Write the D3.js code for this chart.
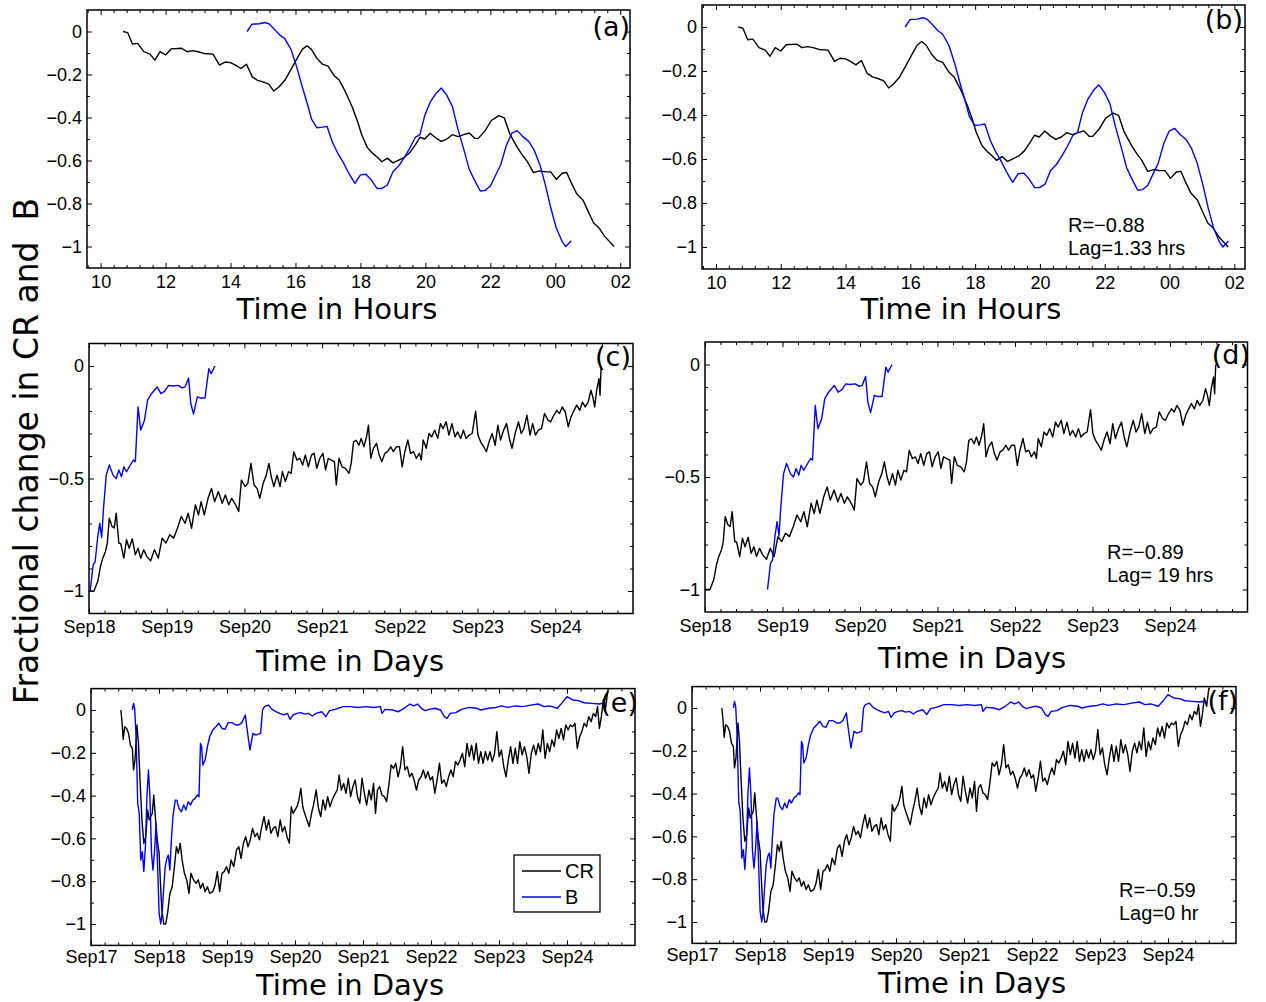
<!DOCTYPE html>
<html>
<head>
<meta charset="utf-8">
<script src="https://cdn.jsdelivr.net/npm/d3@7"></script>
<style>
body { margin: 0; background: #fff; }
.tick text { font-family: "Liberation Sans", Arial, sans-serif; font-size: 18px; fill: #000; }
.big { font-family: "DejaVu Sans", sans-serif; fill: #000; white-space: pre; }
.note { font-family: "Liberation Sans", Arial, sans-serif; font-size: 20px; fill: #000; }
</style>
</head>
<body>
<svg id="fig"></svg>
<script>
// ---- data: hourly event (panels a, b), hours of day (24 = midnight) ----
var crHours = [[10.69,0],[10.83,-0.005],[10.98,-0.058],[11.14,-0.055],[11.33,-0.094],[11.52,-0.105],[11.67,-0.133],[11.83,-0.094],[12.0,-0.109],[12.17,-0.081],[12.49,-0.078],[12.66,-0.094],[12.83,-0.089],[13.0,-0.094],[13.18,-0.102],[13.46,-0.105],[13.66,-0.156],[13.83,-0.142],[14.0,-0.145],[14.15,-0.156],[14.32,-0.172],[14.49,-0.152],[14.67,-0.211],[14.83,-0.227],[15.0,-0.234],[15.18,-0.245],[15.33,-0.277],[15.49,-0.258],[15.67,-0.227],[15.86,-0.177],[16.03,-0.13],[16.21,-0.083],[16.35,-0.066],[16.49,-0.083],[16.66,-0.125],[16.83,-0.152],[17.0,-0.161],[17.18,-0.203],[17.35,-0.227],[17.54,-0.281],[17.75,-0.352],[17.92,-0.422],[18.03,-0.477],[18.21,-0.539],[18.38,-0.567],[18.53,-0.586],[18.66,-0.606],[18.83,-0.589],[19.0,-0.611],[19.18,-0.598],[19.35,-0.586],[19.52,-0.563],[19.69,-0.527],[19.83,-0.492],[19.98,-0.5],[20.15,-0.473],[20.32,-0.495],[20.49,-0.511],[20.66,-0.5],[20.83,-0.48],[21.0,-0.489],[21.18,-0.48],[21.35,-0.472],[21.52,-0.497],[21.63,-0.497],[21.84,-0.461],[22.03,-0.414],[22.26,-0.391],[22.43,-0.402],[22.6,-0.477],[22.83,-0.539],[23.0,-0.578],[23.14,-0.605],[23.33,-0.656],[23.52,-0.648],[23.69,-0.653],[23.86,-0.653],[24.03,-0.688],[24.21,-0.659],[24.35,-0.656],[24.49,-0.703],[24.66,-0.755],[24.86,-0.786],[25.0,-0.833],[25.18,-0.891],[25.35,-0.914],[25.52,-0.953],[25.81,-1.0]]

var bHours = [[14.51,0],[14.66,0.034],[14.89,0.036],[15.06,0.042],[15.18,0.036],[15.35,0.011],[15.52,-0.017],[15.67,-0.033],[15.86,-0.083],[16.03,-0.161],[16.21,-0.258],[16.38,-0.344],[16.49,-0.406],[16.66,-0.448],[16.83,-0.445],[16.97,-0.441],[17.14,-0.516],[17.29,-0.563],[17.46,-0.606],[17.63,-0.656],[17.83,-0.706],[18.0,-0.667],[18.17,-0.664],[18.32,-0.688],[18.51,-0.73],[18.66,-0.73],[18.83,-0.714],[19.0,-0.652],[19.18,-0.625],[19.35,-0.586],[19.52,-0.542],[19.69,-0.492],[19.83,-0.48],[19.98,-0.391],[20.15,-0.328],[20.32,-0.289],[20.49,-0.263],[20.66,-0.297],[20.83,-0.348],[21.0,-0.453],[21.18,-0.547],[21.35,-0.641],[21.5,-0.688],[21.69,-0.742],[21.84,-0.739],[22.0,-0.719],[22.15,-0.672],[22.32,-0.62],[22.49,-0.531],[22.66,-0.473],[22.83,-0.461],[23.0,-0.489],[23.18,-0.511],[23.35,-0.552],[23.52,-0.617],[23.69,-0.711],[23.86,-0.82],[24.03,-0.914],[24.21,-0.977],[24.32,-1.0],[24.49,-0.973]]

// ---- data: panels c, d  (days since Sep 18) ----
var dayZeroCD = 18
var crDaysCD = [[0,-1],[0.064,-1],[0.113,-0.957],[0.148,-0.89],[0.177,-0.854],[0.212,-0.824],[0.236,-0.787],[0.261,-0.676],[0.296,-0.713],[0.325,-0.72],[0.35,-0.654],[0.384,-0.787],[0.409,-0.79],[0.448,-0.854],[0.483,-0.772],[0.517,-0.81],[0.557,-0.768],[0.596,-0.839],[0.631,-0.81],[0.665,-0.854],[0.704,-0.817],[0.744,-0.846],[0.793,-0.866],[0.842,-0.817],[0.892,-0.854],[0.941,-0.765],[0.99,-0.787],[1.039,-0.75],[1.089,-0.765],[1.138,-0.721],[1.187,-0.669],[1.236,-0.699],[1.276,-0.654],[1.32,-0.721],[1.369,-0.617],[1.409,-0.662],[1.443,-0.603],[1.483,-0.662],[1.532,-0.588],[1.576,-0.544],[1.616,-0.603],[1.665,-0.558],[1.714,-0.61],[1.754,-0.573],[1.798,-0.617],[1.837,-0.588],[1.887,-0.617],[1.926,-0.647],[1.961,-0.507],[2.01,-0.536],[2.044,-0.521],[2.084,-0.433],[2.123,-0.529],[2.163,-0.544],[2.197,-0.588],[2.241,-0.521],[2.281,-0.485],[2.315,-0.433],[2.345,-0.492],[2.379,-0.536],[2.419,-0.485],[2.458,-0.536],[2.488,-0.47],[2.527,-0.514],[2.567,-0.47],[2.601,-0.477],[2.635,-0.381],[2.675,-0.418],[2.714,-0.41],[2.749,-0.44],[2.783,-0.396],[2.823,-0.448],[2.862,-0.396],[2.897,-0.388],[2.931,-0.455],[2.97,-0.41],[3.01,-0.388],[3.044,-0.462],[3.079,-0.41],[3.118,-0.418],[3.158,-0.425],[3.182,-0.529],[3.217,-0.41],[3.256,-0.448],[3.3,-0.455],[3.345,-0.477],[3.374,-0.433],[3.404,-0.337],[3.438,-0.33],[3.473,-0.352],[3.502,-0.322],[3.537,-0.359],[3.571,-0.315],[3.596,-0.263],[3.626,-0.41],[3.66,-0.366],[3.7,-0.344],[3.734,-0.396],[3.768,-0.425],[3.808,-0.388],[3.842,-0.381],[3.882,-0.359],[3.916,-0.381],[3.956,-0.359],[3.995,-0.359],[4.03,-0.448],[4.064,-0.381],[4.103,-0.329],[4.138,-0.388],[4.177,-0.381],[4.212,-0.41],[4.251,-0.388],[4.276,-0.418],[4.3,-0.329],[4.34,-0.366],[4.374,-0.3],[4.409,-0.315],[4.448,-0.285],[4.488,-0.322],[4.522,-0.256],[4.557,-0.278],[4.596,-0.248],[4.631,-0.307],[4.67,-0.256],[4.709,-0.315],[4.744,-0.293],[4.783,-0.322],[4.818,-0.285],[4.852,-0.322],[4.892,-0.307],[4.931,-0.3],[4.975,-0.201],[5.005,-0.307],[5.039,-0.337],[5.079,-0.359],[5.113,-0.381],[5.148,-0.337],[5.187,-0.3],[5.227,-0.352],[5.261,-0.263],[5.296,-0.329],[5.335,-0.285],[5.374,-0.256],[5.409,-0.322],[5.443,-0.366],[5.488,-0.293],[5.527,-0.248],[5.562,-0.3],[5.596,-0.278],[5.635,-0.219],[5.675,-0.307],[5.709,-0.256],[5.744,-0.307],[5.783,-0.285],[5.823,-0.278],[5.862,-0.211],[5.906,-0.241],[5.941,-0.248],[5.98,-0.219],[6.02,-0.197],[6.054,-0.211],[6.089,-0.182],[6.128,-0.204],[6.167,-0.27],[6.202,-0.226],[6.241,-0.197],[6.276,-0.174],[6.315,-0.197],[6.35,-0.16],[6.384,-0.182],[6.424,-0.16],[6.458,-0.108],[6.483,-0.137],[6.507,-0.182],[6.532,-0.108],[6.562,-0.056],[6.576,-0.13],[6.59,0]]

var bDaysCD = [[0.015,-1],[0.054,-0.883],[0.079,-0.87],[0.113,-0.758],[0.138,-0.699],[0.163,-0.762],[0.187,-0.632],[0.222,-0.485],[0.261,-0.44],[0.31,-0.485],[0.35,-0.5],[0.384,-0.462],[0.419,-0.492],[0.448,-0.448],[0.483,-0.47],[0.532,-0.44],[0.571,-0.418],[0.596,-0.425],[0.631,-0.182],[0.665,-0.285],[0.714,-0.241],[0.754,-0.152],[0.803,-0.123],[0.877,-0.093],[0.926,-0.123],[0.975,-0.112],[1.025,-0.086],[1.074,-0.089],[1.148,-0.086],[1.197,-0.097],[1.236,-0.093],[1.281,-0.053],[1.31,-0.167],[1.345,-0.214],[1.394,-0.137],[1.433,-0.142],[1.493,-0.142],[1.542,-0.012],[1.571,-0.034],[1.621,0]]

// ---- data: panels e, f  (days since Sep 17) ----
var dayZeroEF = 17
var crDaysEF = [[0.439,0],[0.456,-0.055],[0.473,-0.137],[0.495,-0.078],[0.524,-0.086],[0.552,-0.109],[0.58,-0.164],[0.608,-0.179],[0.625,-0.28],[0.647,-0.234],[0.676,-0.07],[0.698,-0.156],[0.721,-0.327],[0.749,-0.514],[0.777,-0.623],[0.805,-0.592],[0.833,-0.467],[0.856,-0.514],[0.878,-0.498],[0.901,-0.483],[0.923,-0.397],[0.946,-0.498],[0.974,-0.607],[1.002,-0.67],[1.019,-0.794],[1.042,-0.935],[1.07,-1.0],[1.098,-1.0],[1.126,-0.95],[1.16,-0.857],[1.194,-0.826],[1.227,-0.732],[1.256,-0.639],[1.284,-0.67],[1.312,-0.623],[1.34,-0.701],[1.374,-0.763],[1.408,-0.794],[1.441,-0.857],[1.47,-0.763],[1.509,-0.794],[1.543,-0.81],[1.577,-0.794],[1.61,-0.833],[1.644,-0.81],[1.678,-0.849],[1.712,-0.826],[1.745,-0.857],[1.791,-0.849],[1.824,-0.818],[1.858,-0.755],[1.892,-0.849],[1.926,-0.763],[1.959,-0.755],[1.993,-0.732],[2.027,-0.763],[2.061,-0.701],[2.1,-0.732],[2.14,-0.654],[2.173,-0.639],[2.207,-0.693],[2.241,-0.623],[2.275,-0.592],[2.309,-0.639],[2.342,-0.607],[2.376,-0.553],[2.41,-0.592],[2.444,-0.576],[2.477,-0.607],[2.511,-0.545],[2.545,-0.498],[2.579,-0.561],[2.613,-0.514],[2.646,-0.576],[2.68,-0.553],[2.714,-0.545],[2.748,-0.592],[2.782,-0.514],[2.815,-0.569],[2.849,-0.545],[2.883,-0.592],[2.917,-0.623],[2.945,-0.452],[2.973,-0.483],[3.001,-0.467],[3.029,-0.452],[3.057,-0.421],[3.086,-0.366],[3.114,-0.452],[3.142,-0.483],[3.176,-0.514],[3.209,-0.545],[3.243,-0.483],[3.277,-0.436],[3.311,-0.374],[3.345,-0.459],[3.378,-0.498],[3.412,-0.42],[3.446,-0.467],[3.48,-0.405],[3.514,-0.452],[3.547,-0.42],[3.581,-0.397],[3.621,-0.374],[3.649,-0.304],[3.682,-0.374],[3.716,-0.343],[3.75,-0.389],[3.784,-0.319],[3.818,-0.405],[3.851,-0.358],[3.885,-0.327],[3.919,-0.405],[3.953,-0.436],[3.986,-0.319],[4.02,-0.389],[4.054,-0.444],[4.088,-0.374],[4.122,-0.42],[4.155,-0.343],[4.184,-0.483],[4.212,-0.374],[4.245,-0.358],[4.279,-0.397],[4.313,-0.405],[4.347,-0.428],[4.381,-0.35],[4.414,-0.257],[4.448,-0.273],[4.482,-0.249],[4.516,-0.312],[4.55,-0.265],[4.583,-0.171],[4.617,-0.28],[4.651,-0.265],[4.685,-0.312],[4.718,-0.296],[4.752,-0.327],[4.786,-0.374],[4.82,-0.327],[4.854,-0.312],[4.887,-0.28],[4.921,-0.319],[4.955,-0.288],[4.989,-0.327],[5.023,-0.312],[5.056,-0.389],[5.09,-0.327],[5.124,-0.249],[5.158,-0.343],[5.192,-0.327],[5.225,-0.358],[5.259,-0.312],[5.293,-0.28],[5.327,-0.312],[5.36,-0.241],[5.394,-0.257],[5.428,-0.234],[5.462,-0.202],[5.496,-0.265],[5.529,-0.156],[5.563,-0.218],[5.597,-0.164],[5.631,-0.234],[5.665,-0.156],[5.698,-0.249],[5.732,-0.195],[5.766,-0.249],[5.8,-0.195],[5.833,-0.234],[5.867,-0.195],[5.901,-0.241],[5.935,-0.202],[5.968,-0.101],[6.002,-0.218],[6.036,-0.187],[6.07,-0.265],[6.104,-0.312],[6.137,-0.234],[6.171,-0.171],[6.205,-0.249],[6.239,-0.179],[6.273,-0.249],[6.306,-0.148],[6.34,-0.21],[6.374,-0.171],[6.408,-0.218],[6.441,-0.296],[6.475,-0.202],[6.509,-0.164],[6.543,-0.21],[6.577,-0.156],[6.61,-0.195],[6.644,-0.093],[6.678,-0.226],[6.712,-0.156],[6.745,-0.195],[6.779,-0.14],[6.813,-0.171],[6.847,-0.093],[6.881,-0.132],[6.914,-0.086],[6.948,-0.14],[6.982,-0.07],[7.016,-0.093],[7.05,-0.07],[7.083,-0.078],[7.117,-0.062],[7.151,-0.179],[7.185,-0.125],[7.218,-0.101],[7.252,-0.062],[7.286,-0.078],[7.32,-0.031],[7.354,-0.055],[7.387,-0.016],[7.421,-0.031],[7.449,0.016],[7.477,-0.086],[7.505,-0.031],[7.534,0.047],[7.568,0.008],[7.601,0.093]]

var bDaysEF = [[0.608,0],[0.625,0.031],[0.642,0.008],[0.664,-0.125],[0.687,-0.436],[0.709,-0.483],[0.732,-0.701],[0.755,-0.662],[0.777,-0.755],[0.8,-0.639],[0.822,-0.405],[0.845,-0.28],[0.867,-0.405],[0.89,-0.67],[0.912,-0.748],[0.935,-0.654],[0.957,-0.53],[0.98,-0.732],[1.002,-0.95],[1.025,-1.0],[1.047,-0.95],[1.07,-0.826],[1.092,-0.732],[1.115,-0.693],[1.138,-0.678],[1.16,-0.748],[1.182,-0.607],[1.205,-0.498],[1.239,-0.421],[1.261,-0.421],[1.295,-0.46],[1.329,-0.475],[1.363,-0.444],[1.396,-0.467],[1.43,-0.428],[1.464,-0.444],[1.498,-0.421],[1.532,-0.413],[1.565,-0.397],[1.588,-0.405],[1.61,-0.156],[1.627,-0.17],[1.644,-0.257],[1.678,-0.234],[1.712,-0.171],[1.745,-0.125],[1.791,-0.093],[1.836,-0.078],[1.881,-0.062],[1.926,-0.086],[1.971,-0.09],[2.016,-0.059],[2.072,-0.059],[2.128,-0.07],[2.173,-0.07],[2.218,-0.059],[2.269,-0.023],[2.297,-0.093],[2.337,-0.187],[2.382,-0.109],[2.421,-0.117],[2.494,-0.109],[2.523,0],[2.551,0.016],[2.607,0.023],[2.663,0.003],[2.72,-0.008],[2.776,-0.016],[2.832,-0.023],[2.889,-0.016],[2.928,-0.044],[2.973,-0.023],[3.029,-0.016],[3.086,-0.012],[3.142,-0.019],[3.198,-0.016],[3.254,-0.028],[3.311,-0.016],[3.395,-0.008],[3.452,-0.031],[3.508,-0.003],[3.592,0.003],[3.705,0.016],[3.818,0.016],[3.93,0.012],[4.043,0.016],[4.155,0.012],[4.257,0.016],[4.279,-0.016],[4.324,0.003],[4.437,0],[4.521,-0.008],[4.606,0.008],[4.69,0.028],[4.747,0.019],[4.803,0.028],[4.859,0.008],[4.916,-0.003],[4.972,0.003],[5.056,0.008],[5.141,0],[5.197,-0.031],[5.236,-0.039],[5.282,-0.016],[5.366,-0.012],[5.45,0.003],[5.563,0.012],[5.676,0.008],[5.732,0],[5.845,0.008],[5.957,0.012],[6.042,0.019],[6.126,0.012],[6.239,0.019],[6.351,0.016],[6.464,0.023],[6.577,0.028],[6.661,0.016],[6.745,0.019],[6.858,0.008],[6.943,0.039],[6.999,0.062],[7.083,0.047],[7.168,0.044],[7.252,0.034],[7.365,0.031],[7.477,0.028],[7.562,0.034]]

// lags used to shift B in the right-hand panels
var lagHoursB = 1.33        // panel b, hours
var lagDaysD = 19 / 24      // panel d, 19 hrs
var lagDaysF = 0            // panel f

var yTicksFine = [0, -0.2, -0.4, -0.6, -0.8, -1]
var yTicksCoarse = [0, -0.5, -1]
var hourTicks = d3.range(10, 27, 2)

var W = 1266, H = 1002
var svg = d3.select("#fig").attr("width", W).attr("height", H)

svg.append("rect").attr("width", W).attr("height", H).attr("fill", "#fff")

function yFmt(v) {
    if (v == 0) return "0"
    return (v < 0 ? "\u2212" : "") + (+Math.abs(v).toFixed(2))
}
function hourFmt(h) { return String(h % 24).padStart(2, "0") }
function dayFmt(d) { return "Sep" + d }

var panels = [
    { tag: "(a)", box: [87, 10, 630, 268], xDomain: [9.58, 26.3], kind: "hours", yTicks: yTicksFine,
      series: [[crHours, 0, 0, "#000"], [bHours, 0, 0, "#0000ff"]],
      tagAt: [630, 36], title: "Time in Hours", titleAt: [337, 319], pad: 7 },
    { tag: "(b)", box: [702, 5, 1245, 269], xDomain: [9.57, 26.33], kind: "hours", yTicks: yTicksFine,
      series: [[crHours, 0, 0, "#000"], [bHours, 0, lagHoursB, "#0000ff"]],
      tagAt: [1243, 29], title: "Time in Hours", titleAt: [961, 319], pad: 7,
      note: ["R=\u22120.88", "Lag=1.33 hrs"], noteAt: [1068, 232] },
    { tag: "(c)", box: [89, 343.5, 633, 613.5], xDomain: [18, 25], kind: "days", yTicks: yTicksCoarse,
      series: [[crDaysCD, dayZeroCD, 0, "#000"], [bDaysCD, dayZeroCD, 0, "#0000ff"]],
      tagAt: [631, 366], title: "Time in Days", titleAt: [350, 671], pad: 7 },
    { tag: "(d)", box: [705, 342, 1247.5, 612], xDomain: [18, 25], kind: "days", yTicks: yTicksCoarse,
      series: [[crDaysCD, dayZeroCD, 0, "#000"], [bDaysCD, dayZeroCD, lagDaysD, "#0000ff"]],
      tagAt: [1250, 364], title: "Time in Days", titleAt: [972, 668], pad: 7,
      note: ["R=\u22120.89", "Lag= 19 hrs"], noteAt: [1107, 559] },
    { tag: "(e)", box: [91, 688.6, 635, 945.4], xDomain: [17, 25], kind: "days", yTicks: yTicksFine,
      series: [[crDaysEF, dayZeroEF, 0, "#000"], [bDaysEF, dayZeroEF, 0, "#0000ff"]],
      tagAt: [638, 712], title: "Time in Days", titleAt: [350, 995], pad: 5, legend: true },
    { tag: "(f)", box: [692, 686.6, 1236, 943.4], xDomain: [17, 25], kind: "days", yTicks: yTicksFine,
      series: [[crDaysEF, dayZeroEF, 0, "#000"], [bDaysEF, dayZeroEF, lagDaysF, "#0000ff"]],
      tagAt: [1238, 710], title: "Time in Days", titleAt: [972, 993], pad: 5,
      note: ["R=\u22120.59", "Lag=0 hr"], noteAt: [1119, 897] }
]

panels.forEach(function(p, pi) {
    var x0 = p.box[0], y0 = p.box[1], x1 = p.box[2], y1 = p.box[3]
    var x = d3.scaleLinear().domain(p.xDomain).range([x0, x1])
    var y = d3.scaleLinear().domain([-1.1, 0.1]).range([y1, y0])

    var xMajor, xMinor, xFmt
    if (p.kind == "hours") {
        xMajor = hourTicks
        xMinor = d3.range(24, 67).map(function(i) { return i * 0.4 })
        xFmt = hourFmt
    } else {
        xMajor = d3.range(p.xDomain[0], p.xDomain[1])
        xMinor = d3.range(p.xDomain[0] * 5, p.xDomain[1] * 5 + 1).map(function(i) { return i / 5 })
        xFmt = dayFmt
    }
    xMinor = xMinor.filter(function(v) { return v > p.xDomain[0] + 1e-6 && v < p.xDomain[1] - 1e-6 && xMajor.indexOf(+v.toFixed(3)) < 0 })
    var yMinor = d3.range(-10, 1).map(function(i) { return i / 10 }).filter(function(v) { return p.yTicks.indexOf(v) < 0 })

    var g = svg.append("g").attr("class", "panel")

    // clip for the series
    var clipId = "clip" + pi
    g.append("clipPath").attr("id", clipId)
        .append("rect").attr("x", x0).attr("y", y0).attr("width", x1 - x0).attr("height", y1 - y0)

    function addAxis(axis, tx, ty, labels) {
        var a = g.append("g").attr("transform", "translate(" + tx + "," + ty + ")").call(axis)
        a.select(".domain").remove()
        a.selectAll(".tick line").attr("stroke", "#000").attr("stroke-width", 1)
        if (!labels) a.selectAll(".tick text").remove()
        return a
    }

    // major ticks (inside the box, on all four sides)
    addAxis(d3.axisBottom(x).tickValues(xMajor).tickFormat(xFmt).tickSize(-5).tickPadding(p.pad), 0, y1, true)
    addAxis(d3.axisTop(x).tickValues(xMajor).tickSize(-5), 0, y0, false)
    addAxis(d3.axisLeft(y).tickValues(p.yTicks).tickFormat(yFmt).tickSize(-5).tickPadding(5), x0, 0, true)
    addAxis(d3.axisRight(y).tickValues(p.yTicks).tickSize(-5), x1, 0, false)
    // minor ticks
    addAxis(d3.axisBottom(x).tickValues(xMinor).tickSize(-3), 0, y1, false)
    addAxis(d3.axisTop(x).tickValues(xMinor).tickSize(-3), 0, y0, false)
    addAxis(d3.axisLeft(y).tickValues(yMinor).tickSize(-3), x0, 0, false)
    addAxis(d3.axisRight(y).tickValues(yMinor).tickSize(-3), x1, 0, false)

    // series
    var lines = g.append("g").attr("clip-path", "url(#" + clipId + ")")
    p.series.forEach(function(s) {
        var base = s[1], shift = s[2]
        var line = d3.line()
            .x(function(d) { return x(base + d[0] + shift) })
            .y(function(d) { return y(d[1]) })
        lines.append("path")
            .attr("d", line(s[0]))
            .attr("fill", "none")
            .attr("stroke", s[3])
            .attr("stroke-width", 1.4)
            .attr("stroke-linejoin", "round")
    })

    // box
    g.append("rect")
        .attr("x", x0).attr("y", y0).attr("width", x1 - x0).attr("height", y1 - y0)
        .attr("fill", "none").attr("stroke", "#000").attr("stroke-width", 1.5)

    // panel tag
    g.append("text").attr("class", "big")
        .attr("x", p.tagAt[0]).attr("y", p.tagAt[1])
        .attr("text-anchor", "end").style("font-size", "27px")
        .text(p.tag)

    // x title
    g.append("text").attr("class", "big")
        .attr("x", p.titleAt[0]).attr("y", p.titleAt[1])
        .attr("text-anchor", "middle").style("font-size", "29px")
        .text(p.title)

    if (p.note) {
        p.note.forEach(function(t, i) {
            g.append("text").attr("class", "note")
                .attr("x", p.noteAt[0]).attr("y", p.noteAt[1] + i * 23)
                .text(t)
        })
    }

    if (p.legend) {
        var lg = g.append("g")
        lg.append("rect").attr("x", 514).attr("y", 855).attr("width", 86).attr("height", 57)
            .attr("fill", "#fff").attr("stroke", "#000").attr("stroke-width", 1.3)
        var items = [["CR", "#000"], ["B", "#0000ff"]]
        items.forEach(function(it, i) {
            var ly = 871 + i * 26
            lg.append("line").attr("x1", 522).attr("x2", 561).attr("y1", ly).attr("y2", ly)
                .attr("stroke", it[1]).attr("stroke-width", 1.3)
            lg.append("text").attr("class", "note").style("font-size", "20px")
                .attr("x", 565).attr("y", ly + 7).text(it[0])
        })
    }
})

// shared y title
svg.append("text").attr("class", "big")
    .attr("transform", "translate(38,451) rotate(-90)")
    .attr("text-anchor", "middle").style("font-size", "33px")
    .text("Fractional change in CR and  B")
</script>
</body>
</html>
